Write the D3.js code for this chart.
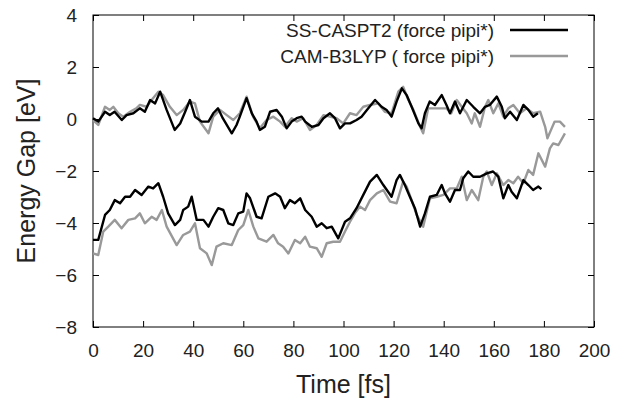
<!DOCTYPE html>
<html>
<head>
<meta charset="utf-8">
<script src="https://cdn.jsdelivr.net/npm/d3@7"></script>
<style>
  body { margin: 0; background: #fff; }
  text { font-family: "Liberation Sans", Arial, sans-serif; fill: #222; }
</style>
</head>
<body>
<div id="chart"></div>
<script>
// data: [time fs, energy gap eV]
const ssUpper = [[0,0.03],[2.1,-0.1],[4.8,0.28],[6.7,0.15],[8.6,0.28],[11.5,-0.04],[13.4,0.15],[16.1,0.22],[18.7,0.41],[20.7,0.28],[22.8,0.73],[24.8,0.6],[26.8,1.05],[29.4,0.35],[32.6,-0.42],[34.8,-0.17],[36.8,0.28],[38.7,0.73],[40.7,0.09],[43.4,-0.1],[46.1,-0.1],[48,0.22],[49.9,0.41],[51.8,0.03],[55.4,-0.55],[57.3,-0.23],[58.6,0.09],[61.3,0.8],[63.4,0.22],[65.3,-0.1],[66.6,-0.42],[68.6,-0.3],[70.7,0.28],[73.3,0.35],[75.4,0.09],[77.3,-0.36],[79.3,-0.1],[81.3,0.03],[83.3,0.09],[84.7,-0.1],[87.3,-0.3],[90,-0.23],[92,0.03],[94.6,0.22],[96.6,0.03],[98.6,-0.36],[100.6,-0.17],[102.6,-0.17],[105.2,-0.04],[107.2,0.09],[109.9,0.41],[112.6,0.73],[115.2,0.47],[117.2,0.35],[119.2,0.09],[121.2,0.67],[123.3,1.18],[125.2,0.92],[127.2,0.47],[129.9,-0.17],[131.2,-0.36],[132.5,0.22],[134.4,0.67],[136.5,0.54],[139.2,0.92],[141.1,0.54],[142.5,0.22],[144.5,0.67],[146.5,0.22],[149.2,0.73],[151.8,0.47],[154.5,0.22],[156.5,0.47],[158.4,0.54],[161.2,0.86],[163.2,0.47],[164.4,0.03],[166.5,0.28],[169.2,-0.04],[171.8,0.54],[173.8,0.35],[175.7,0.09],[177.6,0.22]];

const camUpper = [[0,-0.04],[2.1,-0.23],[4.8,0.47],[6.7,0.35],[8.1,0.47],[10.1,0.22],[12.1,0.09],[14.8,0.28],[17.3,0.41],[18.7,0.54],[21.4,0.47],[23.4,0.73],[26.1,1.05],[28,0.92],[30.7,0.47],[33.4,0.15],[36,0.35],[38.7,0.67],[40.7,0.6],[42.7,-0.1],[46.1,-0.55],[48,0.09],[50.7,0.35],[53.4,0.15],[56,-0.04],[58.6,0.22],[61.3,0.86],[63.9,0.09],[66.6,-0.36],[69.3,-0.04],[72,0.09],[74.7,-0.1],[76.6,-0.3],[79.3,0.03],[81.3,-0.1],[83.9,0.03],[86.6,-0.42],[89.3,-0.23],[92,0.15],[94.6,0.09],[97.2,0.03],[99.9,-0.17],[102.6,0.22],[105.2,0.15],[107.9,0.47],[110.6,0.54],[113.9,0.6],[116.5,0.28],[119.2,0.22],[121.9,1.05],[123.8,1.24],[125.9,0.73],[127.9,0.35],[130.6,-0.3],[131.8,-0.55],[133.8,0.41],[136.5,0.41],[139.2,0.41],[141.1,0.41],[143,0.22],[145.2,0.73],[147.2,0.47],[149.2,0.22],[151.2,-0.17],[152.4,0.22],[154.5,-0.3],[156.5,0.47],[157.8,0.73],[159.8,0.22],[161.8,0.6],[163.8,0.09],[165.8,0.41],[167.8,0.54],[170.4,0.22],[173.1,0.41],[175.7,0.22],[178.5,0.28],[180.5,-0.3],[181.4,-0.74],[183.1,-0.36],[184.3,-0.1],[186.4,-0.1],[188.4,-0.3]];

const ssLower = [[0,-4.65],[2.1,-4.65],[4.8,-3.69],[6.7,-3.5],[8.7,-3.12],[10.8,-3.24],[12.8,-2.99],[14.8,-2.99],[16.8,-2.73],[19.4,-2.92],[22.1,-2.6],[24,-2.67],[26.1,-2.47],[28,-2.99],[30,-3.63],[32.7,-4.08],[34.8,-3.88],[36,-3.5],[38,-3.37],[39.4,-2.99],[41.4,-3.88],[44.1,-3.88],[46.1,-4.14],[48,-3.76],[50,-3.43],[52,-3.5],[54,-4.01],[56,-4.08],[58,-3.63],[60,-3.56],[61.3,-2.86],[62.7,-3.05],[65.3,-3.76],[67.3,-3.82],[70,-2.99],[72.7,-2.86],[74.7,-2.99],[76.6,-3.43],[78.6,-3.12],[80.6,-3.24],[82.7,-3.05],[84.7,-3.5],[87.3,-3.76],[89.3,-4.14],[91.3,-4.01],[93.3,-4.2],[95.3,-4.14],[97.9,-4.59],[100.6,-3.95],[102.6,-3.82],[105.2,-3.43],[107.9,-2.92],[110.6,-2.41],[113.3,-2.15],[115.9,-2.54],[119.2,-2.99],[121.2,-2.35],[122.5,-2.15],[124.5,-2.54],[126.5,-2.99],[128.5,-3.43],[130.6,-4.14],[132.5,-3.63],[134.5,-2.99],[137.2,-2.92],[139.2,-2.54],[140.5,-2.86],[142.5,-3.18],[144.5,-2.73],[146.5,-2.73],[147.8,-2.28],[149.8,-2.02],[151.8,-2.22],[154.5,-2.22],[157.2,-2.09],[159.7,-2.02],[161.8,-2.22],[163.8,-3.05],[165.8,-2.54],[167.1,-2.8],[169.2,-3.05],[171.8,-2.35],[173.8,-2.54],[175.7,-2.73],[177.8,-2.6],[179,-2.7]];

const camLower = [[0,-5.17],[2.1,-5.23],[4.1,-4.33],[6.1,-4.14],[8.7,-3.88],[11.4,-4.2],[14.1,-3.88],[16.8,-3.82],[18.7,-3.63],[20.7,-4.01],[23.4,-3.76],[25.4,-3.88],[27.5,-3.5],[29.4,-4.14],[33.4,-4.85],[36,-4.46],[38.7,-4.33],[40.7,-4.01],[42.7,-4.97],[45.4,-5.17],[47.4,-5.62],[49.3,-4.91],[52,-4.78],[55.4,-4.85],[58,-4.27],[60,-4.08],[62,-3.5],[64,-4.14],[66,-4.59],[69.3,-4.72],[72,-4.46],[73.9,-4.78],[75.9,-4.91],[78,-5.17],[80.6,-4.65],[82.7,-4.78],[84.7,-4.53],[86.6,-4.91],[89.3,-4.97],[91.3,-5.3],[93.3,-4.78],[95.9,-4.72],[98.6,-4.72],[100.6,-4.33],[102.6,-3.95],[104.5,-3.63],[106.6,-3.37],[108.6,-3.5],[110.6,-3.12],[113.3,-2.86],[115.9,-2.73],[118.6,-3.18],[121.2,-3.24],[123.8,-2.41],[125.2,-2.6],[127.2,-3.12],[129.2,-3.69],[131.8,-4.14],[134.5,-3.05],[137.2,-2.99],[139.9,-2.92],[142.5,-2.67],[145.2,-2.67],[147.2,-2.22],[149.2,-3.12],[151.2,-2.73],[153.8,-3.12],[155.8,-2.22],[157.2,-2.02],[159.2,-2.54],[161.2,-2.09],[163.8,-2.54],[165.8,-2.35],[167.8,-2.47],[169.7,-2.22],[171.8,-2.47],[173.8,-1.96],[175.7,-2.15],[177.8,-1.32],[180.5,-1.83],[182.4,-1.13],[183.7,-0.94],[185.8,-1],[188.4,-0.55]];

const xTicks = [0, 20, 40, 60, 80, 100, 120, 140, 160, 180, 200];
const yTicks = [-8, -6, -4, -2, 0, 2, 4];
const legendLabels = ["SS-CASPT2 (force pipi*)", "CAM-B3LYP ( force pipi*)"];

const width = 623, height = 404;
const margin = {left: 93, right: 29, top: 15, bottom: 77};

const svg = d3.select('#chart')
  .append('svg')
  .attr('width', width)
  .attr('height', height);

const x = d3.scaleLinear().domain([0, 200]).range([margin.left, width - margin.right]);
const y = d3.scaleLinear().domain([-8, 4]).range([height - margin.bottom, margin.top]);

const tick = 6;

// axes with inward ticks, mirrored on top and right
svg.append('g')
  .attr('transform', `translate(0,${y(-8)})`)
  .call(d3.axisBottom(x).tickValues(xTicks).tickSizeInner(-tick).tickSizeOuter(0).tickPadding(17))
  .call(g => g.select('.domain').remove());
svg.append('g')
  .attr('transform', `translate(0,${y(4)})`)
  .call(d3.axisTop(x).tickValues(xTicks).tickSizeInner(-tick).tickSizeOuter(0).tickFormat(''))
  .call(g => g.select('.domain').remove());
svg.append('g')
  .attr('transform', `translate(${x(0)},0)`)
  .call(d3.axisLeft(y).tickValues(yTicks).tickSizeInner(-tick).tickSizeOuter(0).tickPadding(16))
  .call(g => g.select('.domain').remove());
svg.append('g')
  .attr('transform', `translate(${x(200)},0)`)
  .call(d3.axisRight(y).tickValues(yTicks).tickSizeInner(-tick).tickSizeOuter(0).tickFormat(''))
  .call(g => g.select('.domain').remove());

svg.selectAll('.tick line').attr('stroke', '#000');
svg.selectAll('.tick text')
  .style('font-family', '"Liberation Sans", Arial, sans-serif')
  .style('font-size', '19px')
  .attr('fill', '#222');

svg.append('rect')
  .attr('x', x(0)).attr('y', y(4))
  .attr('width', x(200) - x(0)).attr('height', y(-8) - y(4))
  .attr('fill', 'none').attr('stroke', '#000').attr('stroke-width', 1);

// lines
const line = d3.line().x(d => x(d[0])).y(d => y(d[1]));
const series = [
  {data: camLower, color: '#999999'},
  {data: camUpper, color: '#999999'},
  {data: ssLower, color: '#000000'},
  {data: ssUpper, color: '#000000'}
];
svg.selectAll('path.series')
  .data(series)
  .enter()
  .append('path')
  .attr('class', 'series')
  .attr('d', d => line(d.data))
  .attr('fill', 'none')
  .attr('stroke', d => d.color)
  .attr('stroke-width', 2.4)
  .attr('stroke-linejoin', 'round');

// legend
const legendColors = ['#000000', '#999999'];
const legend = svg.selectAll('g.legend')
  .data(legendLabels)
  .enter()
  .append('g')
  .attr('class', 'legend')
  .attr('transform', (d, i) => `translate(0,${30 + i * 26})`);
legend.append('text')
  .attr('x', 494)
  .attr('y', 7)
  .attr('text-anchor', 'end')
  .style('font-size', '19px')
  .text(d => d);
legend.append('line')
  .attr('x1', 510).attr('x2', 568)
  .attr('y1', 0).attr('y2', 0)
  .attr('stroke', (d, i) => legendColors[i])
  .attr('stroke-width', 2.4);

// axis titles
svg.append('text')
  .attr('x', (x(0) + x(200)) / 2)
  .attr('y', 393)
  .attr('text-anchor', 'middle')
  .style('font-size', '25px')
  .text('Time [fs]');
svg.append('text')
  .attr('transform', `translate(35,${(y(4) + y(-8)) / 2}) rotate(-90)`)
  .attr('text-anchor', 'middle')
  .style('font-size', '25px')
  .text('Energy Gap [eV]');
</script>
</body>
</html>
